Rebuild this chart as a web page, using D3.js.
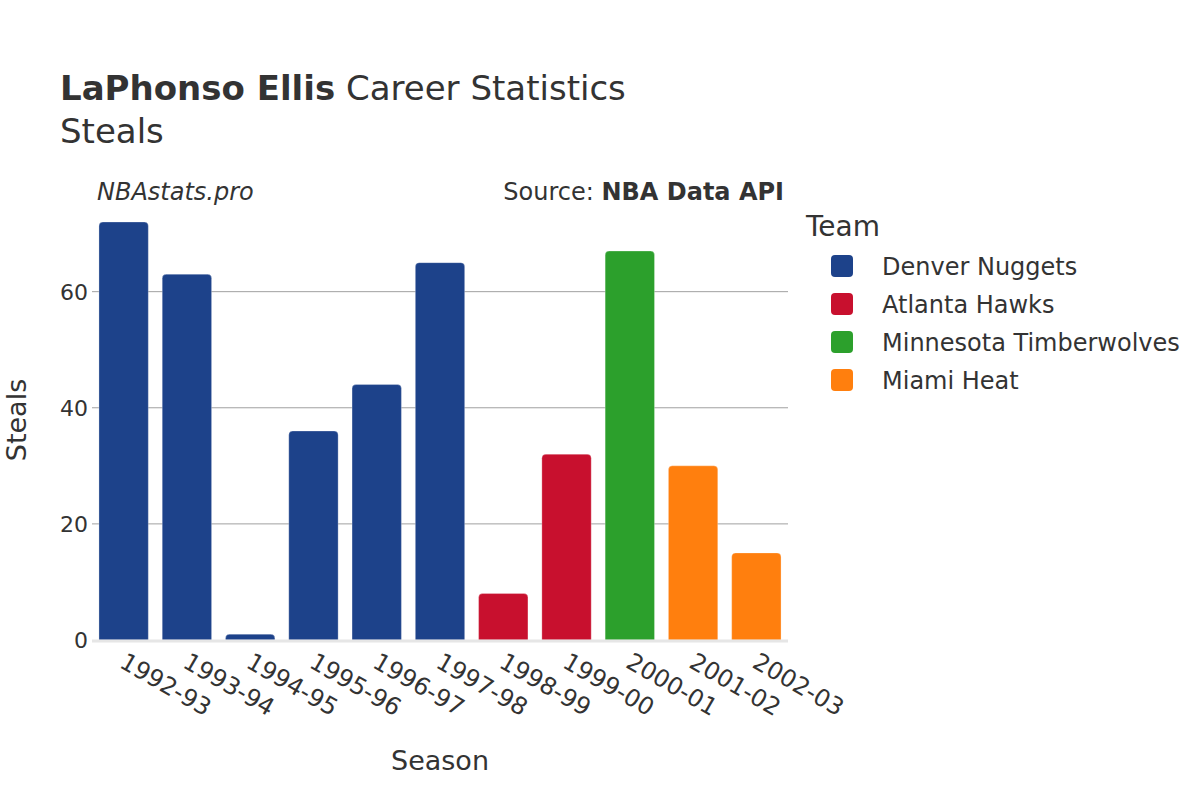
<!DOCTYPE html>
<html>
<head>
<meta charset="utf-8">
<script src="https://cdn.jsdelivr.net/npm/d3@7"></script>
<style>
  body { margin: 0; background: #fff; }
  svg { display: block; font-family: "DejaVu Sans", sans-serif; }
</style>
</head>
<body>
<svg id="chart" width="1200" height="800"></svg>
<script>
const seasons = ["1992-93","1993-94","1994-95","1995-96","1996-97","1997-98","1998-99","1999-00","2000-01","2001-02","2002-03"];
const steals = [72, 63, 1, 36, 44, 65, 8, 32, 67, 30, 15];
const seasonTeams = ["Denver Nuggets","Denver Nuggets","Denver Nuggets","Denver Nuggets","Denver Nuggets","Denver Nuggets","Atlanta Hawks","Atlanta Hawks","Minnesota Timberwolves","Miami Heat","Miami Heat"];
const teams = ["Denver Nuggets","Atlanta Hawks","Minnesota Timberwolves","Miami Heat"];
const teamColors = ["#1d428a","#c8102e","#2ca02c","#ff7f0e"];
const yTicks = [0, 20, 40, 60];

const svg = d3.select("#chart");
const textColor = "#333";
const margin = {left: 92, right: 788, top: 200, bottom: 640};

const x = d3.scaleBand().domain(seasons).range([margin.left, margin.right]).paddingInner(0.22).paddingOuter(0.11);
const y = d3.scaleLinear().domain([0, 75.79]).range([margin.bottom, margin.top]);
const color = d3.scaleOrdinal().domain(teams).range(teamColors);

// gridlines
svg.append("g").selectAll("line").data(yTicks.filter(d => d > 0)).join("line")
  .attr("x1", margin.left).attr("x2", margin.right)
  .attr("y1", d => y(d)).attr("y2", d => y(d))
  .attr("stroke", "#a0a0a0").attr("stroke-width", 1);

// bars with rounded tops
function barPath(x0, w, yTop, yBot) {
  const r = Math.min(4, (yBot - yTop), w / 2);
  return `M${x0},${yBot} L${x0},${yTop + r} Q${x0},${yTop} ${x0 + r},${yTop} L${x0 + w - r},${yTop} Q${x0 + w},${yTop} ${x0 + w},${yTop + r} L${x0 + w},${yBot} Z`;
}
svg.append("g").selectAll("path").data(seasons).join("path")
  .attr("d", (s, i) => barPath(x(s), x.bandwidth(), y(steals[i]), y(0)))
  .attr("fill", (s, i) => color(seasonTeams[i]))
  .attr("stroke", "rgba(255,255,255,0.35)").attr("stroke-width", 0.8);

// x axis line
svg.append("line").attr("x1", margin.left).attr("x2", margin.right)
  .attr("y1", y(0) + 1).attr("y2", y(0) + 1)
  .attr("stroke", "#e6e6e6").attr("stroke-width", 3);

// y tick labels
svg.append("g").selectAll("text").data(yTicks).join("text")
  .attr("x", 88).attr("y", d => y(d)).attr("dy", "0.36em")
  .attr("text-anchor", "end").attr("font-size", 22).attr("fill", textColor)
  .text(d => d);

// x tick labels
svg.append("g").selectAll("text").data(seasons).join("text")
  .attr("transform", s => `translate(${x(s) + x.bandwidth() / 2 + 3},${652}) rotate(30)`)
  .attr("dy", "0.7em")
  .attr("text-anchor", "start").attr("font-size", 24).attr("fill", textColor)
  .text(s => s);

// axis titles
svg.append("text").attr("x", 440).attr("y", 770).attr("text-anchor", "middle")
  .attr("font-size", 27).attr("fill", textColor).text("Season");
svg.append("text").attr("transform", "translate(26,420) rotate(-90)").attr("text-anchor", "middle")
  .attr("font-size", 27).attr("fill", textColor).text("Steals");

// title
const title = svg.append("text").attr("x", 60).attr("y", 100).attr("font-size", 34).attr("fill", textColor);
title.append("tspan").attr("font-weight", "bold").text("LaPhonso Ellis");
title.append("tspan").text(" Career Statistics");
svg.append("text").attr("x", 60).attr("y", 143).attr("font-size", 34).attr("fill", textColor).text("Steals");

// subtitle / source
svg.append("text").attr("x", 97).attr("y", 200).attr("font-size", 24).attr("font-style", "italic")
  .attr("fill", textColor).text("NBAstats.pro");
const src = svg.append("text").attr("x", 784).attr("y", 200).attr("font-size", 24).attr("text-anchor", "end").attr("fill", textColor);
src.append("tspan").text("Source: ");
src.append("tspan").attr("font-weight", "bold").text("NBA Data API");

// legend
svg.append("text").attr("x", 806).attr("y", 236).attr("font-size", 28).attr("fill", textColor).text("Team");
const leg = svg.append("g").selectAll("g").data(teams).join("g")
  .attr("transform", (d, i) => `translate(0,${266 + i * 38})`);
leg.append("rect").attr("x", 831).attr("y", -11).attr("width", 22).attr("height", 22)
  .attr("rx", 4).attr("fill", d => color(d));
leg.append("text").attr("x", 882).attr("y", 0).attr("dy", "0.36em")
  .attr("font-size", 24).attr("fill", textColor).text(d => d);
</script>
</body>
</html>
